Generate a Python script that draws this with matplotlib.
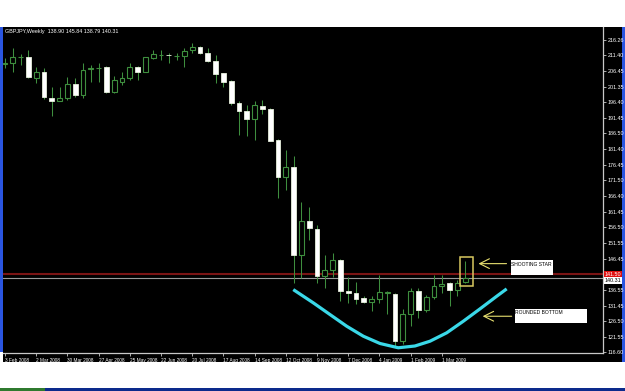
import matplotlib
matplotlib.use('Agg')
import matplotlib.pyplot as plt
from matplotlib.patches import Rectangle
import matplotlib.transforms as mtransforms

# ---------------- data ----------------
title_text = "GBPJPY,Weekly  138.90 145.84 138.79 140.31"

opens = [208.8, 208.9, 210.9, 211.0, 204.1, 206.0, 197.75, 197.0, 197.75, 202.3,
         198.8, 207.2, 207.3, 207.8, 199.85, 203.0, 204.1, 207.6, 206.2, 210.5,
         211.5, 211.6, 211.25, 211.25, 213.2, 214.2, 212.1, 209.65, 205.7, 203.3,
         196.15, 193.5, 191.0, 195.3, 194.3, 184.4, 172.5, 175.7, 147.7, 158.35,
         156.0, 140.8, 142.9, 146.1, 136.2, 135.5, 133.9, 132.5, 133.6, 135.6,
         135.3, 120.05, 128.6, 136.0, 129.95, 134.2, 137.8, 138.5, 136.55, 138.90]
highs = [210.5, 213.7, 211.9, 213.2, 207.6, 207.5, 201.45, 201.45, 204.6, 204.1,
         208.9, 208.4, 208.9, 208.05, 204.9, 206.2, 208.9, 208.05, 211.0, 213.2,
         213.2, 212.1, 212.1, 213.7, 215.5, 214.4, 213.7, 211.6, 205.9, 203.6,
         196.7, 195.6, 196.7, 197.2, 194.55, 184.6, 181.2, 179.1, 164.7, 163.1,
         157.3, 147.7, 148.3, 146.2, 140.6, 138.9, 134.4, 134.6, 141.3, 136.0,
         135.5, 130.4, 137.1, 137.1, 134.95, 141.3, 141.3, 138.9, 139.5, 145.84]
lows = [207.3, 206.2, 208.4, 204.1, 202.7, 197.4, 192.1, 196.7, 197.2, 198.1,
        197.75, 203.0, 203.0, 199.3, 199.3, 202.0, 203.6, 203.6, 206.0, 210.2,
        210.0, 209.1, 210.0, 207.8, 212.1, 211.9, 209.4, 202.5, 201.45, 195.6,
        186.0, 185.5, 184.4, 192.7, 183.9, 165.8, 168.5, 138.7, 140.3, 152.5,
        138.7, 137.1, 140.6, 132.8, 132.3, 132.1, 132.3, 129.6, 132.3, 128.6,
        118.5, 119.0, 124.8, 127.5, 129.3, 133.6, 135.5, 131.2, 134.4, 138.79]
closes = [209.0, 210.8, 211.0, 204.45, 206.2, 198.1, 196.9, 197.75, 202.3, 198.8,
          206.8, 207.4, 207.5, 199.85, 203.6, 204.1, 207.8, 206.2, 210.8, 211.9,
          211.6, 211.5, 211.3, 212.8, 214.2, 212.1, 209.65, 205.4, 203.0, 196.15,
          193.5, 191.0, 195.6, 194.3, 184.2, 172.5, 175.7, 147.7, 158.35, 156.25,
          141.0, 142.9, 146.1, 136.0, 135.5, 133.6, 132.5, 133.6, 135.7, 135.7,
          120.05, 128.6, 136.0, 129.95, 134.2, 137.8, 138.25, 136.55, 138.7, 140.31]

x_tick_index = [0, 4, 8, 12, 16, 20, 24, 28, 32, 36, 40, 44, 48, 52, 56]
x_tick_labels = ['3 Feb 2008', '2 Mar 2008', '30 Mar 2008', '27 Apr 2008', '25 May 2008',
                 '22 Jun 2008', '20 Jul 2008', '17 Aug 2008', '14 Sep 2008', '12 Oct 2008',
                 '9 Nov 2008', '7 Dec 2008', '4 Jan 2009', '1 Feb 2009', '1 Mar 2009']
y_tick_labels = ['216.26', '211.40', '206.45', '201.35', '196.40', '191.45', '186.50',
                 '181.40', '176.45', '171.50', '166.40', '161.45', '156.50', '151.55',
                 '146.45', '136.55', '131.45', '126.50', '121.55', '116.60']

hline_price = 141.50
bid_price = 140.31

# hand-drawn "rounded bottom" stroke (week index, price)
arc_x = [36.96, 39.53, 41.67, 43.81, 45.94, 48.08, 50.42, 52.56, 54.49, 56.63, 58.76, 60.90, 63.04, 64.32]
arc_y = [136.55, 132.31, 128.57, 124.84, 121.65, 119.32, 117.95, 118.52, 120.05, 122.73, 126.44, 130.39, 134.42, 136.78]

# annotation geometry (week index, price)
star_box = (58.4, 137.6, 59.96, 146.86)
star_arrow = (64.3, 60.7, 144.85)
star_label_box = (64.83, 141.34, 70.3, 146.13)
bottom_arrow = (64.96, 61.24, 128.03)
bottom_label_box = (65.4, 126.0, 74.6, 130.49)

# ---------------- styling ----------------
W, H = 625, 391
GREEN = '#3E8E3E'
FONT = ['Liberation Sans Narrow', 'Liberation Sans', 'DejaVu Sans']
FS = 3.9
FSX = 3.4

fig = plt.figure(figsize=(W / 100, H / 100), dpi=100)
fig.patch.set_facecolor('white')

def fr(x0, y0, x1, y1, color):
    fig.patches.append(Rectangle((x0 / W, 1 - y1 / H), (x1 - x0) / W, (y1 - y0) / H,
                                 transform=fig.transFigure, facecolor=color,
                                 edgecolor='none', zorder=-10))

fr(3, 27, 622, 362, 'black')
fr(0, 27, 3, 352, '#2a55e0')
fr(622, 27, 625, 362, '#2a55e0')
fr(0, 388, 625, 391, '#0c2a8c')
fr(0, 388, 45, 391, '#2f7a2f')

ax = fig.add_axes([3 / W, 1 - 353 / H, 600 / W, 326 / H])
ax.set_zorder(5)
ax.set_facecolor('black')

body_w = 0.62
for i, (o, h, l, c) in enumerate(zip(opens, highs, lows, closes)):
    ax.vlines(i, l, h, color=GREEN, lw=0.75, zorder=2)
    if c >= o:
        ax.add_patch(Rectangle((i - body_w / 2, o), body_w, max(c - o, 0.05),
                               facecolor='black', edgecolor=GREEN, lw=0.8, zorder=3))
    else:
        ax.add_patch(Rectangle((i - body_w / 2, c), body_w, o - c,
                               facecolor='white', edgecolor='#e6efdc', lw=0.6, zorder=3))

ax.axhline(hline_price, color='#7a1414', lw=1.5, zorder=1)
ax.axhline(bid_price, color='#9a9a9a', lw=0.8, zorder=1)

ax.plot(arc_x, arc_y, color='#3AD8E8', lw=2.3, solid_capstyle='butt',
        solid_joinstyle='round', zorder=4)

# shooting star box
x0, y0, x1, y1 = star_box
ax.add_patch(Rectangle((x0, y0), x1 - x0, y1 - y0, facecolor='none',
                       edgecolor='#D8C860', lw=1.1, zorder=5))

for (xs, xe, yy) in (star_arrow, bottom_arrow):
    ax.annotate('', xy=(xe, yy), xytext=(xs, yy),
                arrowprops=dict(arrowstyle='->,head_length=0.7,head_width=0.35',
                                color='#E8E070', lw=0.8, shrinkA=0, shrinkB=0),
                zorder=5)

for (bx0, by0, bx1, by1), txt in ((star_label_box, 'SHOOTING STAR'),
                                   (bottom_label_box, 'ROUNDED BOTTOM')):
    ax.add_patch(Rectangle((bx0, by0), bx1 - bx0, by1 - by0, facecolor='white',
                           edgecolor='none', zorder=5))
    ax.text(bx0 + 0.05, by1 - 0.6, txt, color='black', fontsize=3.6, family=FONT,
            ha='left', va='top', zorder=6)

# axes & ticks
ax.set_xlim(-0.256, 76.67)
ax.set_ylim(116.28, 220.5)
for s in ('top', 'left'):
    ax.spines[s].set_visible(False)
for s in ('right', 'bottom'):
    ax.spines[s].set_color('#c8c8c8')
    ax.spines[s].set_linewidth(0.9)

ax.yaxis.tick_right()
ax.set_yticks([float(t) for t in y_tick_labels])
ax.set_yticklabels(y_tick_labels)
ax.set_xticks(x_tick_index)
ax.set_xticklabels(x_tick_labels)
ax.tick_params(axis='both', colors='#c8c8c8', length=2, width=0.6,
               labelcolor='white', pad=1.5)
ax.tick_params(axis='y', labelsize=FS)
ax.tick_params(axis='x', labelsize=FSX)
for lab in ax.get_xticklabels():
    lab.set_ha('left')
    lab.set_family(FONT)
for lab in ax.get_yticklabels():
    lab.set_family(FONT)

trans = mtransforms.blended_transform_factory(ax.transAxes, ax.transData)
ax.text(1.003, hline_price, f'{hline_price:.2f}', transform=trans, fontsize=FS,
        family=FONT, color='white', ha='left', va='center', zorder=7,
        bbox=dict(boxstyle='square,pad=0.15', facecolor='#e01010', edgecolor='none'),
        clip_on=False)
ax.text(1.003, bid_price - 0.9, f'{bid_price:.2f}', transform=trans, fontsize=FS,
        family=FONT, color='black', ha='left', va='center', zorder=7,
        bbox=dict(boxstyle='square,pad=0.15', facecolor='white', edgecolor='none'),
        clip_on=False)

ax.text(0.004, 0.995, title_text, transform=ax.transAxes, fontsize=FS, family=FONT,
        color='white', ha='left', va='top')

fig.savefig('out.png', dpi=100, facecolor=fig.get_facecolor())
